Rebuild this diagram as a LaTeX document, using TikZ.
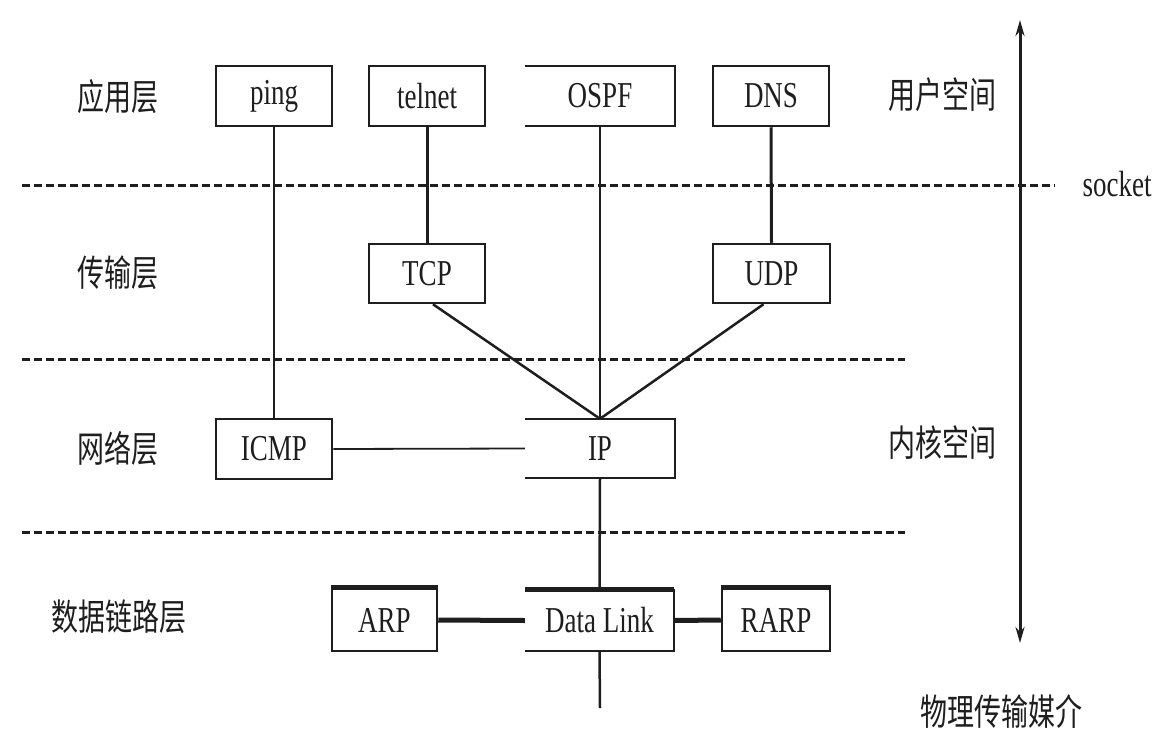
\documentclass[tikz,border=0pt]{standalone}
\usepackage{fontspec}
\setmainfont{Liberation Serif}
\newfontfamily\cjk{Noto Sans CJK SC}
\usetikzlibrary{arrows.meta,calc}
\newcommand{\tall}[1]{\scalebox{1}[1.35]{#1}}
\definecolor{ink}{HTML}{1E1E1E}
\begin{document}
\begin{tikzpicture}[x=1pt,y=-1pt, color=ink,
  bx/.style={inner sep=0pt, minimum height=60pt, text=ink, font=\fontsize{27}{27}\selectfont},
  full/.style={bx, draw=ink, line width=2.5pt},
  open/.style={bx},
  zh/.style={inner sep=0pt, text=ink, font=\cjk\fontsize{27}{27}\selectfont},
  en/.style={inner sep=0pt, text=ink, font=\fontsize{27}{27}\selectfont},
  edge/.style={line width=2.5pt},
  thinedge/.style={line width=1.8pt},
  thickedge/.style={line width=5pt},
  sep/.style={line width=3pt, dash pattern=on 8pt off 4pt},
  topbar/.style={line width=5pt}
]
\useasboundingbox (0,0) rectangle (1162,739);

% boxes
\node[full, minimum width=116pt] (ping) at (274,96) {\tall{ping}};
\node[full, minimum width=116pt] (telnet) at (427,96) {\tall{telnet}};
\node[open, minimum width=150pt] (ospf) at (600,96) {\tall{OSPF}};
\node[full, minimum width=116pt] (dns) at (771,96) {\tall{DNS}};
\node[full, minimum width=116pt, minimum height=59pt] (tcp) at (427,273.5) {\tall{TCP}};
\node[full, minimum width=117pt, minimum height=59pt] (udp) at (771.5,273.5) {\tall{UDP}};
\node[full, minimum width=116pt] (icmp) at (274,449) {\tall{ICMP}};
\node[open, minimum width=150pt, minimum height=59pt] (ip) at (600,448.5) {\tall{IP}};
\node[full, minimum width=105pt, minimum height=62pt] (arp) at (384.5,620) {\tall{ARP}};
\node[open, minimum width=149pt, minimum height=61pt] (dl) at (599.5,620.5) {\tall{Data Link}};
\node[full, minimum width=108pt, minimum height=62pt] (rarp) at (776,620) {\tall{RARP}};

% open boxes (no left side)
\draw[edge] (ospf.north west) -- (ospf.north east) -- (ospf.south east) -- (ospf.south west);
\draw[edge] (ip.north west) -- (ip.north east) -- (ip.south east) -- (ip.south west);
\draw[edge] (dl.north west) -- (dl.north east) -- (dl.south east) -- (dl.south west);
% thick tops
\draw[topbar] (arp.north west) -- (arp.north east);
\draw[topbar] (dl.north west) -- (dl.north east);
\draw[topbar] (rarp.north west) -- (rarp.north east);

% connectors
\draw[thinedge] (ping.south) -- (icmp.north);
\draw[edge, line width=3pt] (telnet.south) -- (tcp.north);
\draw[edge] (ospf.south) -- (ip.north);
\draw[edge, line width=3pt] (dns.south) -- (udp.north);
\draw[edge] ($(tcp.south)+(6,0)$) -- (ip.north);
\draw[edge] ($(udp.south)+(-8,0)$) -- (ip.north);
\draw[thinedge] (icmp.east) -- (ip.west);
\draw[edge] (ip.south) -- (dl.north);
\coordinate (phys) at (600,708);
\draw[edge] (dl.south) -- (phys);
\draw[thickedge] (arp.east) -- (dl.west);
\draw[thickedge] (dl.east) -- (rarp.west);

% separators
\coordinate (s1a) at (22,185); \coordinate (s1b) at (1055,185);
\coordinate (s2a) at (22,359); \coordinate (s2b) at (905,359);
\coordinate (s3a) at (22,532); \coordinate (s3b) at (905,532);
\draw[sep] (s1a) -- (s1b);
\draw[sep] (s2a) -- (s2b);
\draw[sep] (s3a) -- (s3b);

% user/kernel arrow
\coordinate (atop) at (1020,20);
\coordinate (abot) at (1020,643);
\draw[line width=3pt, {Stealth[length=16pt,width=9pt]}-{Stealth[length=16pt,width=9pt]}] (atop) -- (abot);

% labels
\node[zh] (l1) at (118,97) {\tall{应用层}};
\node[zh] (l2) at (118,273) {\tall{传输层}};
\node[zh] (l3) at (118,449) {\tall{网络层}};
\node[zh] (l4) at (119,617) {\tall{数据链路层}};
\node[zh] (us) at (942,95) {\tall{用户空间}};
\node[zh] (ks) at (942,443) {\tall{内核空间}};
\node[en] (sock) at (1117,184) {\tall{socket}};
\node[zh] (pm) at (1001,712) {\tall{物理传输媒介}};
\end{tikzpicture}
\end{document}
